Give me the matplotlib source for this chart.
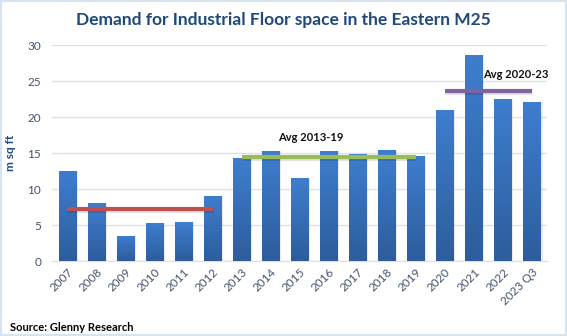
import numpy as np
import matplotlib
matplotlib.use("Agg")
import matplotlib.pyplot as plt
from matplotlib.patches import Rectangle

# data
years = ["2007", "2008", "2009", "2010", "2011", "2012", "2013", "2014", "2015",
         "2016", "2017", "2018", "2019", "2020", "2021", "2022", "2023 Q3"]
demand = [12.5, 8.0, 3.5, 5.3, 5.4, 9.0, 14.3, 15.3, 11.5,
          15.3, 14.9, 15.4, 14.6, 21.0, 28.6, 22.5, 22.1]

# average lines: (first index, last index, value, colour)
avg_start = [0, 6, 13]
avg_end = [5, 12, 16]
avg_value = [7.3, 14.5, 23.6]
avg_colors = ["#C0504D", "#9BBB59", "#8064A2"]
avg_labels = ["", "Avg 2013-19", "Avg 2020-23"]
avg_label_x = [0, 8.4, 15.45]
avg_label_y = [0, 17.1, 25.9]

plt.rcParams['font.family'] = ['Lato', 'DejaVu Sans']

fig = plt.figure(figsize=(5.67, 3.36), dpi=100)
ax = fig.add_axes([0.092, 0.223, 0.873, 0.643])

x = np.arange(len(years))
bars = ax.bar(x, demand, width=0.6, color="#3A74C0", zorder=2)

# vertical gradient on each bar
grad = np.linspace(0, 1, 256).reshape(-1, 1)
cmap = matplotlib.colors.LinearSegmentedColormap.from_list("b", ["#2D5D9C", "#3E7ECF"])
for b in bars:
    bx, by = b.get_x(), b.get_y()
    w, h = b.get_width(), b.get_height()
    im = ax.imshow(grad, extent=[bx, bx + w, by, by + h], origin="lower",
                   cmap=cmap, aspect="auto", zorder=3)
    im.set_clip_path(b)
    # soft shadow on the right
    ax.add_patch(Rectangle((bx + w, by), 0.06, h, color="#000000", alpha=0.08,
                           zorder=1, linewidth=0))

# average lines
for s, e, v, c, lab, lx, ly in zip(avg_start, avg_end, avg_value, avg_colors,
                                    avg_labels, avg_label_x, avg_label_y):
    ax.plot([s, e], [v - 0.18, v - 0.18], color="#000000", alpha=0.12, lw=3.5,
            zorder=4, solid_capstyle="butt")
    ax.plot([s, e], [v, v], color=c, lw=3, zorder=5, solid_capstyle="butt")
    if lab:
        ax.text(lx, ly, lab, ha="center", va="center", fontsize=8,
                fontweight="bold", color="#111111", clip_on=False)

ax.set_xlim(-0.52, 16.52)
ax.set_ylim(0, 30)
ax.set_yticks(range(0, 31, 5))
ax.set_xticks(x)
ax.set_xticklabels(years, rotation=45, ha="right", rotation_mode="anchor")
ax.tick_params(axis="both", length=0, labelsize=8.5, colors="#44546A")
ax.tick_params(axis="x", pad=4)
ax.tick_params(axis="y", pad=8)
ax.grid(axis="y", color="#D9E1EC", linewidth=1, zorder=0)
ax.set_axisbelow(True)
for sp in ["top", "right", "left"]:
    ax.spines[sp].set_visible(False)
ax.spines["bottom"].set_color("#D9E1EC")

fig.text(0.018, 0.545, "m sq ft", rotation=90, ha="center", va="center",
         fontsize=8.5, fontweight="bold", color="#1F497D")

fig.text(0.5, 0.94, "Demand for Industrial Floor space in the Eastern M25",
         ha="center", va="center", fontsize=12.5, fontweight="bold", color="#1F497D")
fig.text(0.018, 0.024, "Source: Glenny Research", ha="left", va="center",
         fontsize=8, fontweight="bold", color="#000000")

fig.add_artist(Rectangle((0.002, 0.003), 0.996, 0.994, transform=fig.transFigure,
                         fill=False, edgecolor="#D6E3F0", linewidth=1.5))

fig.savefig("out.png", dpi=100)
